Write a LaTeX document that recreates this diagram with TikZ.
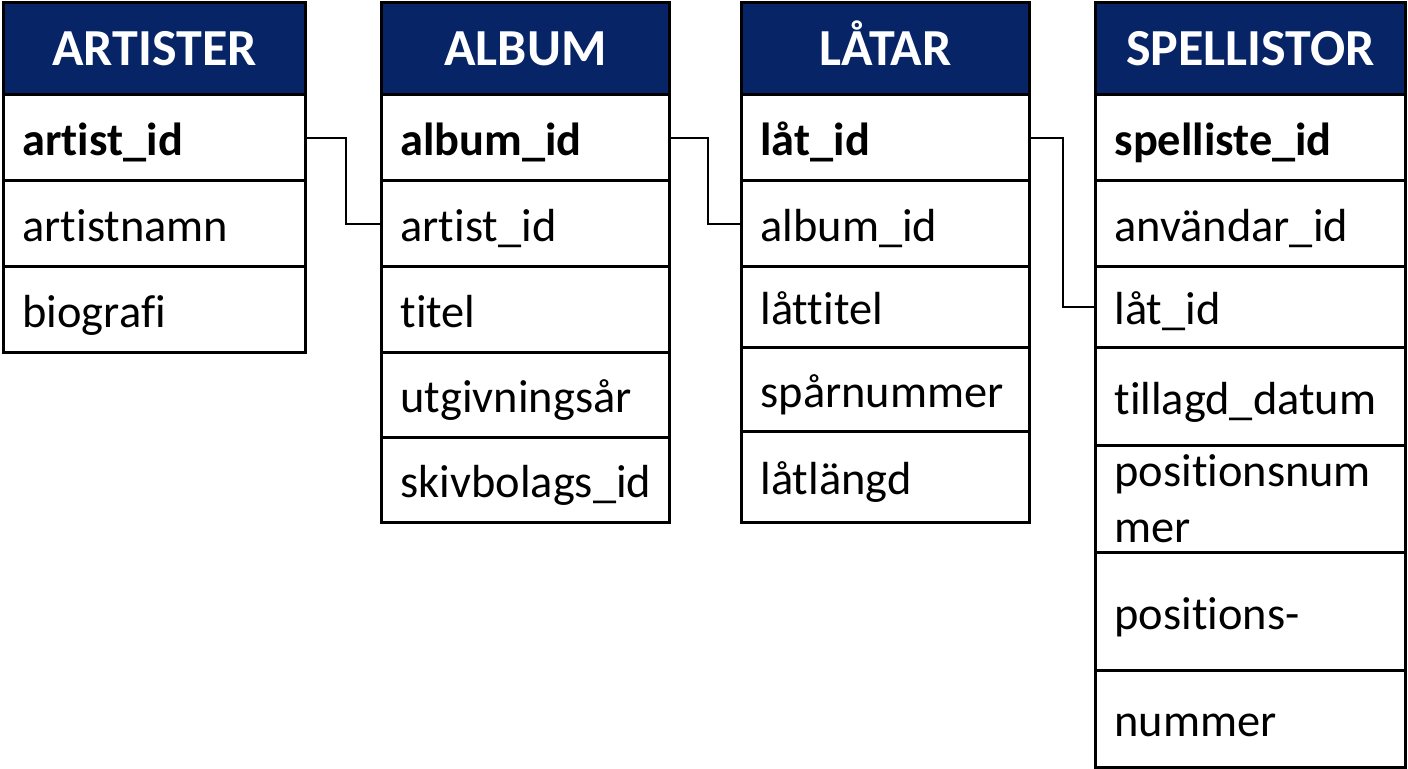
\documentclass[tikz,border=0pt]{standalone}
\usepackage{fontspec}
\setmainfont{Carlito}[Ligatures=NoCommon]
\definecolor{rubrikbla}{RGB}{6,36,102}
\tikzset{
  cellbas/.style={draw=black, line width=1.5pt, anchor=north west, inner xsep=9.5pt, inner ysep=0pt, align=left, font=\fontsize{23.2}{28}\selectfont},
  cell/.style={cellbas, text height=17.5pt, text depth=0pt},
  rubrik/.style={cellbas, fill=rubrikbla, text=white, align=center, minimum height=46pt, text height=16.8pt, text depth=0pt, font=\bfseries\fontsize{26}{30}\selectfont},
  nyckel/.style={cell, font=\bfseries\fontsize{23.2}{28}\selectfont},
  koppling/.style={draw=black, line width=1pt},
  artbredd/.style={text width=132pt},
  albbredd/.style={text width=125pt},
  latbredd/.style={text width=125pt},
  spelbredd/.style={text width=136pt}
}
\begin{document}
\begin{tikzpicture}[x=0.5pt,y=-0.5pt]
\useasboundingbox (0,0) rectangle (1408,768);
% ARTISTER
\node[rubrik,artbredd] (art0) at (2,1) {ARTISTER};
\node[nyckel,artbredd,minimum height=43pt] (art1) at (2,93) {artist\_id};
\node[cell,artbredd,minimum height=43pt] (art2) at (2,179) {artistnamn};
\node[cell,artbredd,minimum height=43pt] (art3) at (2,265) {biografi};
% ALBUM
\node[rubrik,albbredd] (alb0) at (380,1) {ALBUM};
\node[nyckel,albbredd,minimum height=43pt] (alb1) at (380,93) {album\_id};
\node[cell,albbredd,minimum height=43pt] (alb2) at (380,179) {artist\_id};
\node[cell,albbredd,minimum height=43pt] (alb3) at (380,265) {titel};
\node[cell,albbredd,minimum height=42.5pt] (alb4) at (380,351) {utgivningsår};
\node[cell,albbredd,minimum height=42.5pt] (alb5) at (380,436) {skivbolags\_id};
% LÅTAR
\node[rubrik,latbredd] (lat0) at (740,1) {LÅTAR};
\node[nyckel,latbredd,minimum height=43pt] (lat1) at (740,93) {låt\_id};
\node[cell,latbredd,minimum height=43pt] (lat2) at (740,179) {album\_id};
\node[cell,latbredd,minimum height=40.5pt] (lat3) at (740,265) {låttitel};
\node[cell,latbredd,minimum height=42pt] (lat4) at (740,346) {spårnummer};
\node[cell,latbredd,minimum height=45.5pt] (lat5) at (740,430) {låtlängd};
% SPELLISTOR
\node[rubrik,spelbredd] (spl0) at (1094,1) {SPELLISTOR};
\node[nyckel,spelbredd,minimum height=43pt] (spl1) at (1094,93) {spelliste\_id};
\node[cell,spelbredd,minimum height=43pt] (spl2) at (1094,179) {användar\_id};
\node[cell,spelbredd,minimum height=40.5pt] (spl3) at (1094,265) {låt\_id};
\node[cell,spelbredd,minimum height=49pt] (spl4) at (1094,346) {tillagd\_datum};
\node[cellbas,spelbredd,minimum height=53.5pt] (spl5) at (1094,444) {positionsnum\\mer};
\node[cell,spelbredd,minimum height=59pt] (spl6) at (1094,551) {positions-};
\node[cell,spelbredd,minimum height=48.5pt] (spl7) at (1094,669) {nummer};
% kopplingar
\draw[koppling] (art1.east) -- ++(39,0) |- (alb2.west);
\draw[koppling] (alb1.east) -- ++(37,0) |- (lat2.west);
\draw[koppling] (lat1.east) -- ++(32,0) |- (spl3.west);
\end{tikzpicture}
\end{document}
